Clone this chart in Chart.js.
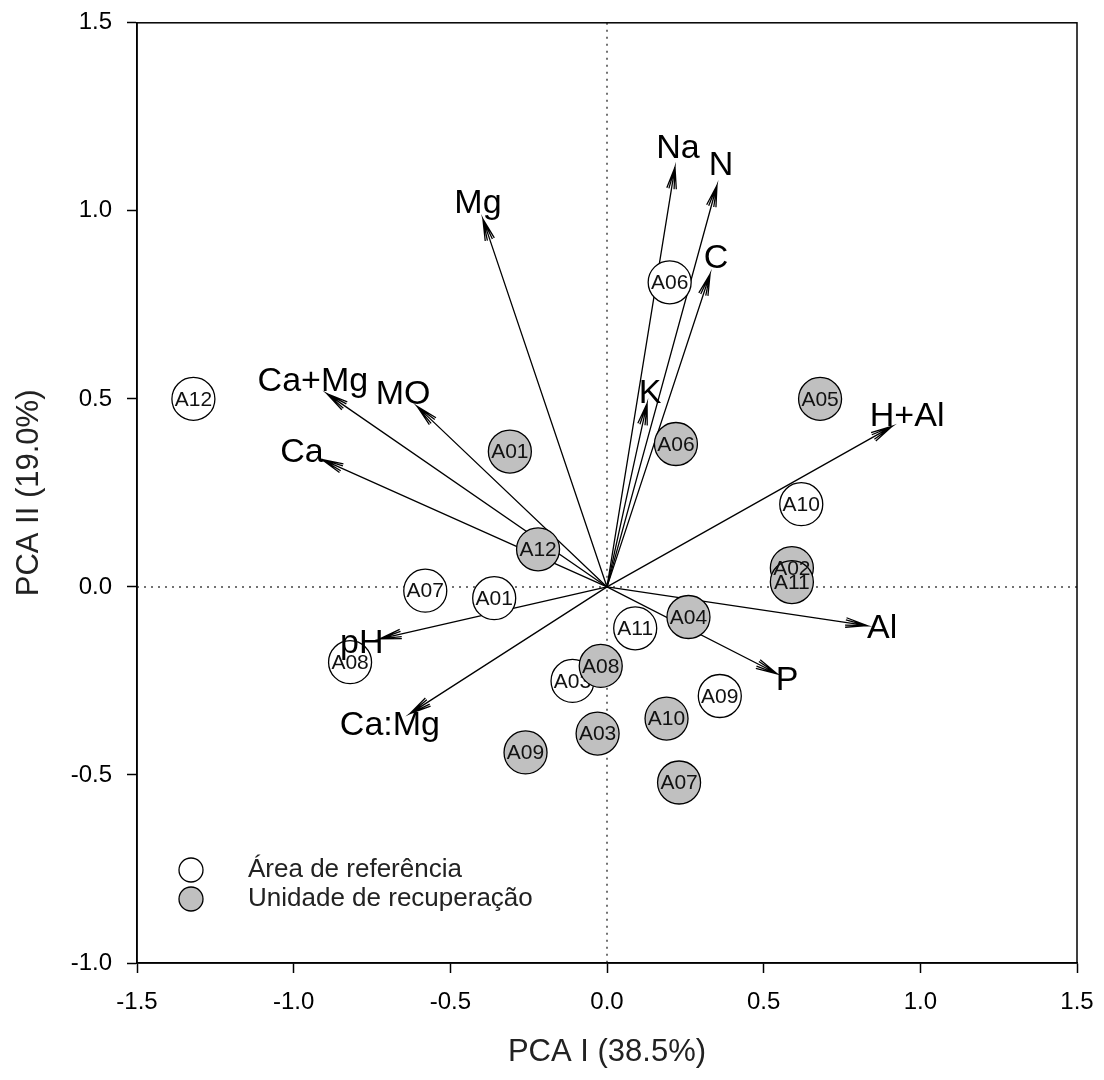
<!DOCTYPE html>
<html>
<head>
<meta charset="utf-8">
<script src="https://cdn.jsdelivr.net/npm/chart.js@4"></script>
<style>
  html, body { margin: 0; padding: 0; background: #fff; }
  canvas { display: block; }
</style>
</head>
<body>
<canvas id="pcaChart" width="1104" height="1080"></canvas>
<script>
// site scores - reference area (white)
const refLabels = ["A12", "A06", "A10", "A07", "A01", "A08", "A11", "A03", "A09"];
const refX = [-1.32, 0.20, 0.62, -0.58, -0.36, -0.82, 0.09, -0.11, 0.36];
const refY = [0.50, 0.81, 0.22, -0.01, -0.03, -0.20, -0.11, -0.25, -0.29];

// site scores - recovery unit (grey)
const recLabels = ["A05", "A06", "A01", "A12", "A02", "A11", "A04", "A08", "A10", "A03", "A09", "A07"];
const recX = [0.68, 0.22, -0.31, -0.22, 0.59, 0.59, 0.26, -0.02, 0.19, -0.03, -0.26, 0.23];
const recY = [0.50, 0.38, 0.36, 0.10, 0.05, 0.013, -0.08, -0.21, -0.35, -0.39, -0.44, -0.52];

// variable loadings (arrow tips)
const varNames = ["Na", "N", "C", "Mg", "K", "Ca+Mg", "MO", "Ca", "pH", "Ca:Mg", "H+Al", "Al", "P"];
const varX = [0.217, 0.351, 0.329, -0.396, 0.128, -0.894, -0.606, -0.910, -0.725, -0.629, 0.910, 0.830, 0.543];
const varY = [1.116, 1.068, 0.832, 0.978, 0.488, 0.514, 0.480, 0.339, -0.138, -0.337, 0.427, -0.103, -0.231];

const xTicks = [-1.5, -1.0, -0.5, 0, 0.5, 1.0, 1.5];
const yTicks = [-1.0, -0.5, 0, 0.5, 1.0, 1.5];

const legendLabels = ["Área de referência", "Unidade de recuperação"];

// offset of each variable name from its arrow tip, in px
const varLabelShift = [[3, -19], [4, -20], [6, -15], [-5, -15], [3, -10], [-14, -12], [-14, -12],
  [-20, -7], [-18, 5], [-20, 12], [15, -10], [15, 3], [10, 7]];

const FONT = "'Liberation Sans', Arial, sans-serif";
const GREY = "#c0c0c0";
Chart.defaults.font.family = FONT;
Chart.defaults.color = "#000";

const pcaExtras = {
  id: "pcaExtras",
  beforeDatasetsDraw(chart) {
    const { ctx, chartArea: a, scales: { x, y } } = chart;
    const x0 = x.getPixelForValue(0), y0 = y.getPixelForValue(0);
    ctx.save();
    // dotted zero lines
    ctx.setLineDash([2, 5]);
    ctx.strokeStyle = "#444";
    ctx.lineWidth = 1.5;
    ctx.beginPath();
    ctx.moveTo(x0, a.top); ctx.lineTo(x0, a.bottom);
    ctx.moveTo(a.left, y0); ctx.lineTo(a.right, y0);
    ctx.stroke();
    ctx.setLineDash([]);
    // loading arrows
    ctx.strokeStyle = "#000";
    ctx.lineWidth = 1.3;
    varNames.forEach((n, i) => {
      const tx = x.getPixelForValue(varX[i]), ty = y.getPixelForValue(varY[i]);
      const ang = Math.atan2(ty - y0, tx - x0);
      ctx.beginPath();
      ctx.moveTo(x0, y0);
      ctx.lineTo(tx, ty);
      [0.12, 0.22].forEach(d => {
        ctx.moveTo(tx - 22 * Math.cos(ang - d), ty - 22 * Math.sin(ang - d));
        ctx.lineTo(tx, ty);
        ctx.lineTo(tx - 22 * Math.cos(ang + d), ty - 22 * Math.sin(ang + d));
      });
      ctx.stroke();
    });
    ctx.restore();
  },
  afterDatasetDraw(chart, args) {
    const { ctx } = chart;
    const labels = args.index === 0 ? recLabels : refLabels;
    ctx.save();
    ctx.font = "21px " + FONT;
    ctx.fillStyle = "#111";
    ctx.textAlign = "center";
    ctx.textBaseline = "middle";
    args.meta.data.forEach((pt, i) => ctx.fillText(labels[i], pt.x, pt.y + 1));
    ctx.restore();
  },
  afterDatasetsDraw(chart) {
    const { ctx, scales: { x, y } } = chart;
    ctx.save();
    ctx.font = "34px " + FONT;
    ctx.fillStyle = "#000";
    ctx.textAlign = "center";
    ctx.textBaseline = "middle";
    varNames.forEach((n, i) => {
      const tx = x.getPixelForValue(varX[i]), ty = y.getPixelForValue(varY[i]);
      ctx.fillText(n, tx + varLabelShift[i][0], ty + varLabelShift[i][1]);
    });
    ctx.restore();
  },
  afterDraw(chart) {
    const { ctx, chartArea: a } = chart;
    ctx.save();
    ctx.strokeStyle = "#000";
    ctx.lineWidth = 1.5;
    ctx.strokeRect(a.left, a.top, a.right - a.left, a.bottom - a.top);
    // legend
    const fills = ["#fff", GREY];
    ctx.font = "26px " + FONT;
    ctx.textBaseline = "middle";
    legendLabels.forEach((t, i) => {
      const cy = a.bottom - 93 + i * 29;
      ctx.beginPath();
      ctx.arc(a.left + 54, cy, 12, 0, Math.PI * 2);
      ctx.fillStyle = fills[i];
      ctx.fill();
      ctx.lineWidth = 1.3;
      ctx.stroke();
      ctx.fillStyle = "#222";
      ctx.fillText(t, a.left + 111, cy);
    });
    ctx.restore();
  }
};

const toPts = (xs, ys) => xs.map((v, i) => ({ x: v, y: ys[i] }));

new Chart(document.getElementById("pcaChart").getContext("2d"), {
  type: "scatter",
  data: {
    datasets: [
      {
        label: legendLabels[1],
        data: toPts(recX, recY),
        backgroundColor: GREY,
        borderColor: "#000",
        borderWidth: 1.3,
        pointRadius: 21.5,
        pointHoverRadius: 21.5,
      },
      {
        label: legendLabels[0],
        data: toPts(refX, refY),
        backgroundColor: "#fff",
        borderColor: "#000",
        borderWidth: 1.3,
        pointRadius: 21.5,
        pointHoverRadius: 21.5,
      },
    ],
  },
  options: {
    responsive: false,
    animation: false,
    events: [],
    layout: { padding: { top: 20, right: 27, left: 0, bottom: 0 } },
    plugins: { legend: { display: false }, tooltip: { enabled: false } },
    scales: {
      x: {
        min: -1.5,
        max: 1.5,
        afterBuildTicks: s => { s.ticks = xTicks.map(v => ({ value: v })); },
        afterFit: s => { s.height = 117; s.paddingLeft = 0; s.paddingRight = 0; },
        ticks: { font: { size: 24 }, padding: 15, maxRotation: 0, callback: v => v.toFixed(1) },
        grid: { drawOnChartArea: false, drawTicks: true, tickLength: 10, tickColor: "#000", tickWidth: 1.5 },
        border: { color: "#000", width: 1.5 },
        title: { display: true, text: "PCA I (38.5%)", font: { size: 31 }, color: "#222", padding: { top: 0, bottom: 9 } },
      },
      y: {
        min: -1.0,
        max: 1.5,
        afterBuildTicks: s => { s.ticks = yTicks.map(v => ({ value: v })); },
        afterFit: s => { s.width = 137; s.paddingTop = 0; s.paddingBottom = 0; },
        ticks: { font: { size: 24 }, padding: 15, callback: v => v.toFixed(1) },
        grid: { drawOnChartArea: false, drawTicks: true, tickLength: 10, tickColor: "#000", tickWidth: 1.5 },
        border: { color: "#000", width: 1.5 },
        title: { display: true, text: "PCA II (19.0%)", font: { size: 31 }, color: "#222", padding: { top: 11, bottom: 0 } },
      },
    },
  },
  plugins: [pcaExtras],
});
</script>
</body>
</html>
